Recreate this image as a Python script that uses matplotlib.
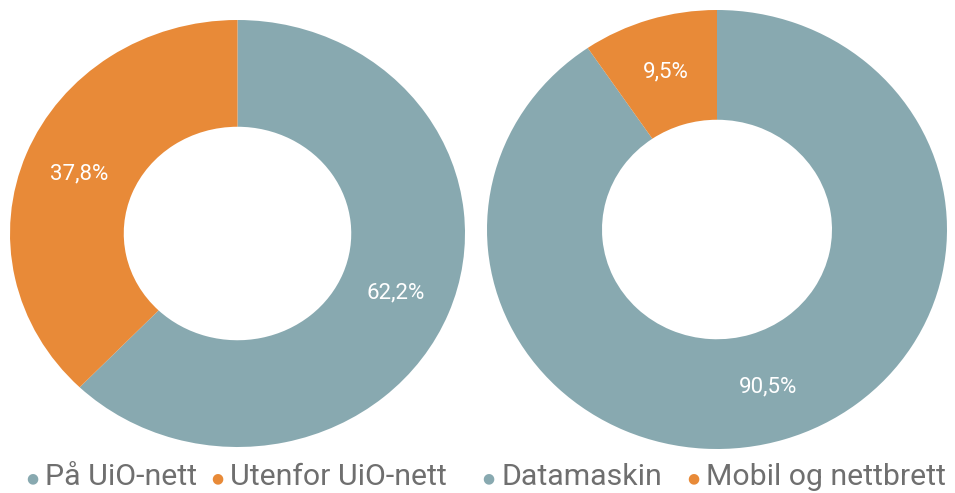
import matplotlib.pyplot as plt
import numpy as np

# data
left_labels = ['På UiO-nett', 'Utenfor UiO-nett']
left_values = [62.2, 37.8]
right_labels = ['Datamaskin', 'Mobil og nettbrett']
right_values = [90.5, 9.5]
colors = ['#88a9b0', '#e88a38']

plt.rcParams['font.family'] = ['Roboto', 'DejaVu Sans']

fig = plt.figure(figsize=(9.55, 4.93), dpi=100)
W, H = 955, 493


def donut(box, values):
    x0, y0, x1, y1 = box  # pixel box, y from top
    ax = fig.add_axes([x0 / W, (H - y1) / H, (x1 - x0) / W, (y1 - y0) / H])
    wedges, _ = ax.pie(values, colors=colors, startangle=90, counterclock=False,
                       radius=1, wedgeprops=dict(width=0.5, linewidth=0))
    ax.set_aspect('auto')
    ax.set_xlim(-1, 1)
    ax.set_ylim(-1, 1)
    for w, v in zip(wedges, values):
        ang = np.deg2rad((w.theta1 + w.theta2) / 2)
        ax.text(0.75 * np.cos(ang), 0.75 * np.sin(ang), f'{v:.1f}%'.replace('.', ','),
                ha='center', va='center', color='white', fontsize=16)
    return ax


donut((10, 20, 465, 447), left_values)
donut((487, 10, 947, 449), right_values)

# legend
items = [(32, left_labels[0], colors[0]), (217, left_labels[1], colors[1]),
         (488, right_labels[0], colors[0]), (693, right_labels[1], colors[1])]
for x, lab, c in items:
    fig.text(x / W, 1 - 478 / H, '\u25cf', color=c, fontsize=10, ha='center', va='center',
             family='DejaVu Sans')
    fig.text((x + 13) / W, 1 - 477 / H, lab, color='#6f6f6f', fontsize=21.8,
             ha='left', va='center')

fig.savefig('out.png', dpi=100)
